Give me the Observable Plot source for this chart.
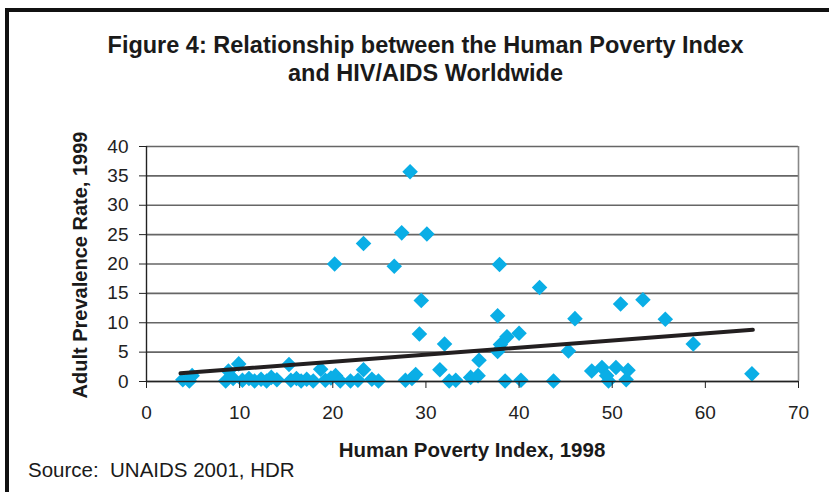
<!DOCTYPE html>
<html>
<head>
<meta charset="utf-8">
<script src="https://cdn.jsdelivr.net/npm/d3@7"></script>
<script src="https://cdn.jsdelivr.net/npm/@observablehq/plot@0.6"></script>
<style>
  html, body { margin: 0; padding: 0; background: #fff; }
  #wrap { position: relative; width: 829px; height: 492px; overflow: hidden; font-family: "Liberation Sans", Arial, sans-serif; }
  #frame { position: absolute; left: 5px; top: 8px; width: 840px; height: 500px; border-left: 4px solid #111; border-top: 4px solid #111; }
  .title { position: absolute; left: 0; width: 851px; text-align: center; font-weight: bold; font-size: 23.5px; color: #1a1a1a; line-height: 28px; }
  #xlab { position: absolute; left: 146px; width: 652px; top: 438px; text-align: center; font-weight: bold; font-size: 20.5px; color: #1a1a1a; }
  #ylab { position: absolute; left: 80px; top: 265px; transform: translate(-50%, -50%) rotate(-90deg); white-space: nowrap; font-weight: bold; font-size: 20px; color: #1a1a1a; }
  #src { position: absolute; left: 28px; top: 458px; font-size: 20.5px; color: #1a1a1a; }
  #chart { position: absolute; left: 0; top: 0; }
</style>
</head>
<body>
<div id="wrap">
  <div id="chart"></div>
  <div id="frame"></div>
  <div class="title" style="top:31px">Figure 4: Relationship between the Human Poverty Index</div>
  <div class="title" style="top:59px">and HIV/AIDS Worldwide</div>
  <div id="ylab">Adult Prevalence Rate, 1999</div>
  <div id="xlab">Human Poverty Index, 1998</div>
  <div id="src">Source:&nbsp; UNAIDS 2001, HDR</div>
</div>
<script>
// Human Poverty Index 1998 (x) and Adult HIV prevalence 1999 (y)
const hpi = [3.9, 4.6, 4.9, 8.5, 8.8, 9.3, 9.9, 10.3, 11.0, 11.6, 12.3, 12.9, 13.4, 14.0,
  15.3, 15.5, 16.1, 16.6, 17.2, 17.9, 18.7, 19.2, 19.8, 20.2, 20.3, 20.8, 21.9, 22.7, 23.3, 23.3, 24.2, 24.9,
  26.6, 27.4, 27.8, 28.3, 28.5, 28.9, 29.3, 29.5, 30.1, 31.5, 32.0, 32.5, 33.2, 34.8, 35.6, 35.7,
  37.7, 37.7, 38.0, 37.9, 38.5, 38.7, 40.0, 40.2, 42.2, 43.7, 45.3, 46.0, 47.8, 48.9, 49.4, 49.6,
  50.4, 50.9, 51.5, 51.7, 53.3, 55.7, 58.7, 65.0];
const prevalence = [0.3, 0.1, 1.0, 0.1, 1.8, 0.5, 3.0, 0.2, 0.5, 0.1, 0.4, 0.1, 0.7, 0.3,
  2.9, 0.2, 0.5, 0.1, 0.4, 0.1, 2.1, 0.2, 0.6, 20.0, 1.0, 0.1, 0.1, 0.2, 2.0, 23.5, 0.4, 0.1,
  19.6, 25.3, 0.2, 35.7, 0.5, 1.2, 8.1, 13.8, 25.1, 2.0, 6.4, 0.1, 0.2, 0.7, 1.0, 3.6,
  11.2, 5.1, 6.3, 19.9, 0.1, 7.6, 8.2, 0.2, 16.0, 0.1, 5.2, 10.7, 1.8, 2.4, 1.0, 0.1,
  2.4, 13.2, 0.3, 1.9, 13.9, 10.6, 6.4, 1.3];
// Linear trend line endpoints
const trendX = [3.65, 65.1];
const trendY = [1.4, 8.8];
const xTicks = [0, 10, 20, 30, 40, 50, 60, 70];
const yTicks = [0, 5, 10, 15, 20, 25, 30, 35, 40];

const points = hpi.map((x, i) => ({x, y: prevalence[i]}));
const trend = trendX.map((x, i) => ({x, y: trendY[i]}));

const chart = Plot.plot({
  width: 829,
  height: 492,
  marginLeft: 146,
  marginRight: 31,
  marginTop: 146,
  marginBottom: 111,
  style: {fontFamily: "'Liberation Sans', Arial, sans-serif", fontSize: "19px", color: "#222", background: "transparent"},
  x: {domain: [0, 70]},
  y: {domain: [0, 40]},
  marks: [
    Plot.gridY(yTicks, {stroke: "#666", strokeOpacity: 1, strokeWidth: 1.6}),
    Plot.ruleX([70], {stroke: "#888", strokeWidth: 1.6}),
    Plot.dot(points, {x: "x", y: "y", symbol: "diamond2", r: 7, fill: "#0aaee6", stroke: "none"}),
    Plot.line(trend, {x: "x", y: "y", stroke: "#231f20", strokeWidth: 4}),
    Plot.ruleY([0], {stroke: "#222", strokeWidth: 1.4}),
    Plot.ruleX([0], {stroke: "#222", strokeWidth: 1.4}),
    Plot.axisX({ticks: xTicks, label: null, tickSize: 7, tickPadding: 17, stroke: "#222"}),
    Plot.axisY({ticks: yTicks, label: null, tickSize: 7, tickPadding: 11, stroke: "#222"})
  ]
});
document.getElementById("chart").appendChild(chart);
</script>
</body>
</html>
